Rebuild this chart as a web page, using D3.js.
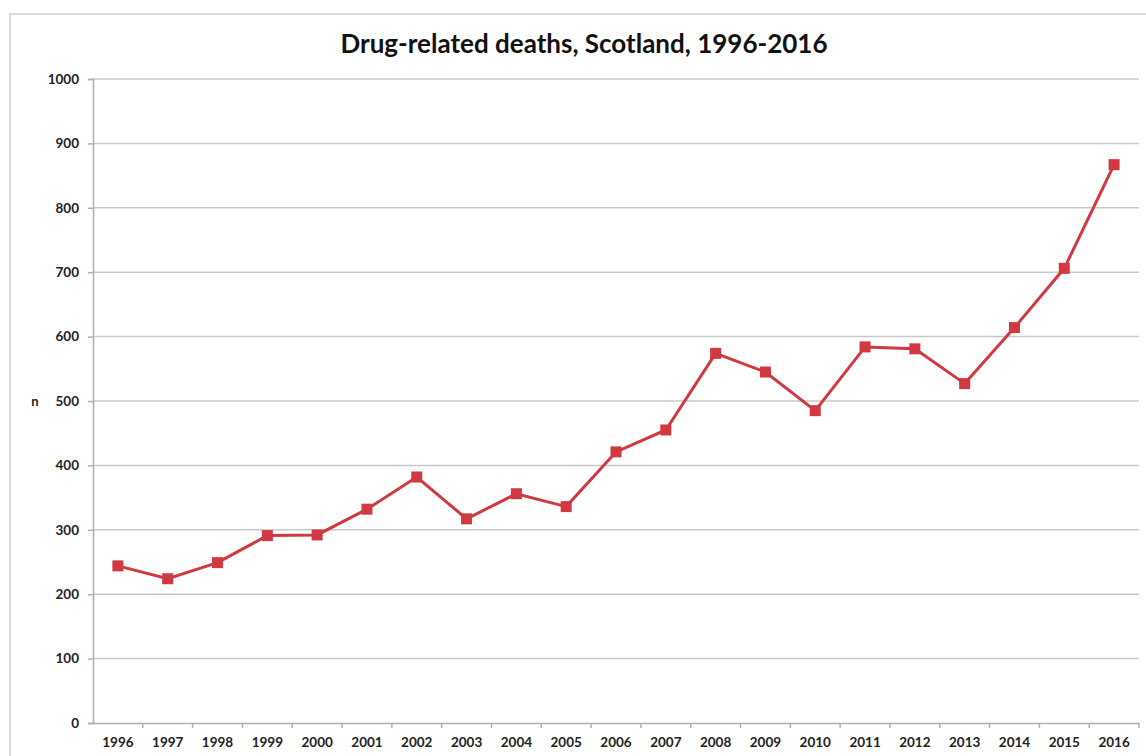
<!DOCTYPE html>
<html>
<head>
<meta charset="utf-8">
<script src="https://cdn.jsdelivr.net/npm/d3@7"></script>
<style>
  body { margin: 0; background: #fff; }
  text { font-family: Lato, "Open Sans", sans-serif; }
</style>
</head>
<body>
<svg id="chart" width="1146" height="756"></svg>
<script>
// Data
const years = ['1996','1997','1998','1999','2000','2001','2002','2003','2004','2005',
               '2006','2007','2008','2009','2010','2011','2012','2013','2014','2015','2016'];
const deaths = [244, 224, 249, 291, 292, 332, 382, 317, 356, 336,
                421, 455, 574, 545, 485, 584, 581, 527, 614, 706, 867];
const yTicks = [0, 100, 200, 300, 400, 500, 600, 700, 800, 900, 1000];

const svg = d3.select('#chart');

// outer chart frame
svg.append('rect')
    .attr('x', 10).attr('y', 14)
    .attr('width', 1160).attr('height', 780)
    .attr('fill', 'none')
    .attr('stroke', '#d9d9d9')
    .attr('stroke-width', 2);

const plot = { left: 93, right: 1139, top: 79, bottom: 723 };

const x = d3.scaleBand().domain(years).range([plot.left, plot.right]);
const y = d3.scaleLinear().domain([0, 1000]).range([plot.bottom, plot.top]);

// gridlines
svg.append('g')
    .selectAll('line')
    .data(yTicks.filter(d => d > 0))
    .enter()
    .append('line')
    .attr('x1', plot.left).attr('x2', plot.right)
    .attr('y1', d => y(d)).attr('y2', d => y(d))
    .attr('stroke', '#c9c9c9')
    .attr('stroke-width', 1.5);

// y axis
const yAxis = svg.append('g')
    .attr('transform', `translate(${plot.left},0)`)
    .call(d3.axisLeft(y).tickValues(yTicks).tickFormat(d3.format('d')).tickSize(5).tickPadding(9));
yAxis.select('.domain').attr('stroke', '#b0b0b0').attr('stroke-width', 1.5);
yAxis.selectAll('.tick line').attr('stroke', '#b0b0b0').attr('stroke-width', 1.5);
yAxis.selectAll('.tick text')
    .attr('font-size', 13.5).attr('font-weight', 'bold').attr('fill', '#222')
    .style('font-family', 'Lato, sans-serif');

// x axis with ticks between categories
const xAxis = svg.append('g')
    .attr('transform', `translate(0,${plot.bottom})`)
    .call(d3.axisBottom(x).tickSize(0).tickPadding(14));
xAxis.select('.domain').attr('stroke', '#b0b0b0').attr('stroke-width', 1.5);
xAxis.selectAll('.tick text')
    .attr('font-size', 13.5).attr('font-weight', 'bold').attr('fill', '#222')
    .style('font-family', 'Lato, sans-serif');
xAxis.selectAll('.sep')
    .data(years)
    .enter()
    .append('line')
    .attr('class', 'sep')
    .attr('x1', d => x(d) + x.bandwidth())
    .attr('x2', d => x(d) + x.bandwidth())
    .attr('y1', 0).attr('y2', 5)
    .attr('stroke', '#b0b0b0')
    .attr('stroke-width', 1.5);

// line
const red = '#d0393f';
const line = d3.line()
    .x((d, i) => x(years[i]) + x.bandwidth() / 2)
    .y(d => y(d));

svg.append('path')
    .datum(deaths)
    .attr('d', line)
    .attr('fill', 'none')
    .attr('stroke', red)
    .attr('stroke-width', 3);

// square markers
const ms = 11;
svg.selectAll('.marker')
    .data(deaths)
    .enter()
    .append('rect')
    .attr('class', 'marker')
    .attr('x', (d, i) => x(years[i]) + x.bandwidth() / 2 - ms / 2)
    .attr('y', d => y(d) - ms / 2)
    .attr('width', ms).attr('height', ms)
    .attr('fill', red);

// title
svg.append('text')
    .attr('x', 584).attr('y', 53)
    .attr('text-anchor', 'middle')
    .attr('font-size', 26)
    .attr('font-weight', 'bold')
    .attr('fill', '#111')
    .text('Drug-related deaths, Scotland, 1996-2016');

// y axis label
svg.append('text')
    .attr('x', 35).attr('y', 406)
    .attr('text-anchor', 'middle')
    .attr('font-size', 13)
    .attr('font-weight', 'bold')
    .attr('fill', '#222')
    .text('n');
</script>
</body>
</html>
